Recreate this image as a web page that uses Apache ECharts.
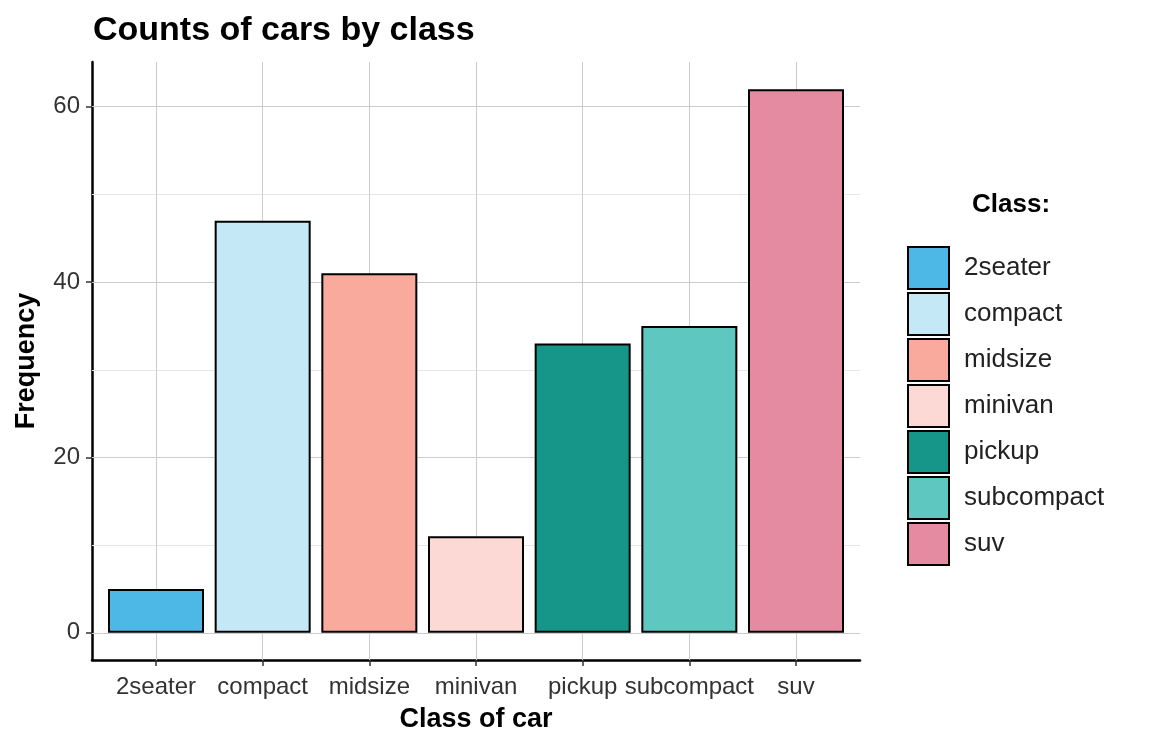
<!DOCTYPE html>
<html>
<head>
<meta charset="utf-8">
<script src="https://cdn.jsdelivr.net/npm/echarts@6/dist/echarts.min.js"></script>
<style>html,body{margin:0;padding:0;background:#fff}#c{width:1152px;height:748px}</style>
</head>
<body>
<div id="c"></div>
<script>
const categories = ['2seater', 'compact', 'midsize', 'minivan', 'pickup', 'subcompact', 'suv'];
const counts = [5, 47, 41, 11, 33, 35, 62];
const colors = ['#4DB8E5', '#C4E8F6', '#FAAA9D', '#FCD9D5', '#169688', '#5EC7BF', '#E48BA1'];
const yTicks = [0, 20, 40, 60];
const yMinor = [10, 30, 50];
const yMin = -3.1, yMax = 65.1;

const chart = echarts.init(document.getElementById('c'), null, {renderer: 'canvas'});

const barSeries = categories.map((c, i) => ({
  name: c,
  type: 'bar',
  xAxisIndex: 1,
  yAxisIndex: 1,
  stack: 'all',
  barWidth: '90%',
  z: 3,
  itemStyle: {color: colors[i], borderColor: '#000', borderWidth: 2},
  data: categories.map((_, j) => j === i ? counts[i] : '-')
}));

const hGridSeries = {
  type: 'line',
  xAxisIndex: 0,
  yAxisIndex: 0,
  data: [],
  z: 1,
  silent: true,
  markLine: {
    silent: true, z: 1,
    symbol: 'none',
    label: {show: false},
    animation: false,
    data: [
      ...yMinor.map(v => ({yAxis: v, lineStyle: {color: '#E6E6E6', width: 1, type: 'solid'}})),
      ...yTicks.map(v => ({yAxis: v, lineStyle: {color: '#CCCCCC', width: 1, type: 'solid'}}))
    ]
  }
};
const vGridSeries = {
  type: 'line',
  xAxisIndex: 1,
  yAxisIndex: 1,
  data: [],
  z: 1,
  silent: true,
  markLine: {
    silent: true, z: 1,
    symbol: 'none',
    label: {show: false},
    animation: false,
    data: categories.map(c => ({xAxis: c, lineStyle: {color: '#CCCCCC', width: 1, type: 'solid'}}))
  }
};

const option = {
  animation: false,
  backgroundColor: '#fff',
  title: [
    {text: 'Counts of cars by class', left: 88, top: 9,
     textStyle: {fontFamily: 'Liberation Sans, Arial, sans-serif', fontWeight: 'bold', fontSize: 34, color: '#000'}},
    {text: 'Class:', left: 967, top: 187,
     textStyle: {fontFamily: 'Liberation Sans, Arial, sans-serif', fontWeight: 'bold', fontSize: 26, color: '#000'}}
  ],
  legend: {
    orient: 'vertical',
    left: 902,
    top: 241,
    itemWidth: 41,
    itemHeight: 42,
    itemGap: 2,
    icon: 'rect',
    data: categories,
    itemStyle: {borderColor: '#000', borderWidth: 2},
    textStyle: {fontFamily: 'Liberation Sans, Arial, sans-serif', fontSize: 26, color: '#222', padding: [0, 0, 0, 10]}
  },
  grid: [
    {left: 92, right: 292, top: 62, bottom: 88, outerBoundsMode: 'none', containLabel: false},
    {left: 102.67, right: 302.67, top: 62, bottom: 88, outerBoundsMode: 'none', containLabel: false}
  ],
  xAxis: [
    {gridIndex: 0, type: 'value', min: 0, max: 1,
     axisLine: {show: true, onZero: false, lineStyle: {color: '#000', width: 2.5}},
     axisTick: {show: false}, axisLabel: {show: false}, splitLine: {show: false},
     name: 'Class of car', nameLocation: 'middle', nameGap: 46,
     nameTextStyle: {fontFamily: 'Liberation Sans, Arial, sans-serif', fontWeight: 'bold', fontSize: 27, color: '#000'}},
    {gridIndex: 1, type: 'category', data: categories,
     axisLine: {show: false, onZero: false},
     axisTick: {show: true, alignWithLabel: true, length: 6, lineStyle: {color: '#333', width: 1.5}},
     axisLabel: {margin: 15, fontFamily: 'Liberation Sans, Arial, sans-serif', fontSize: 24, color: '#333', interval: 0},
     splitLine: {show: false}}
  ],
  yAxis: [
    {gridIndex: 0, type: 'value', min: yMin, max: yMax,
     axisLine: {show: true, onZero: false, lineStyle: {color: '#000', width: 2.5}},
     axisTick: {show: true, length: 6, customValues: yTicks, lineStyle: {color: '#333', width: 1.5}},
     axisLabel: {show: true, customValues: yTicks, margin: 12, fontFamily: 'Liberation Sans, Arial, sans-serif', fontSize: 24, color: '#333'},
     splitLine: {show: false},
     name: 'Frequency', nameLocation: 'middle', nameGap: 52, nameRotate: 90,
     nameTextStyle: {fontFamily: 'Liberation Sans, Arial, sans-serif', fontWeight: 'bold', fontSize: 27, color: '#000'}},
    {gridIndex: 1, type: 'value', min: yMin, max: yMax, show: false, splitLine: {show: false}}
  ],
  series: [hGridSeries, vGridSeries, ...barSeries]
};
chart.setOption(option);
</script>
</body>
</html>
